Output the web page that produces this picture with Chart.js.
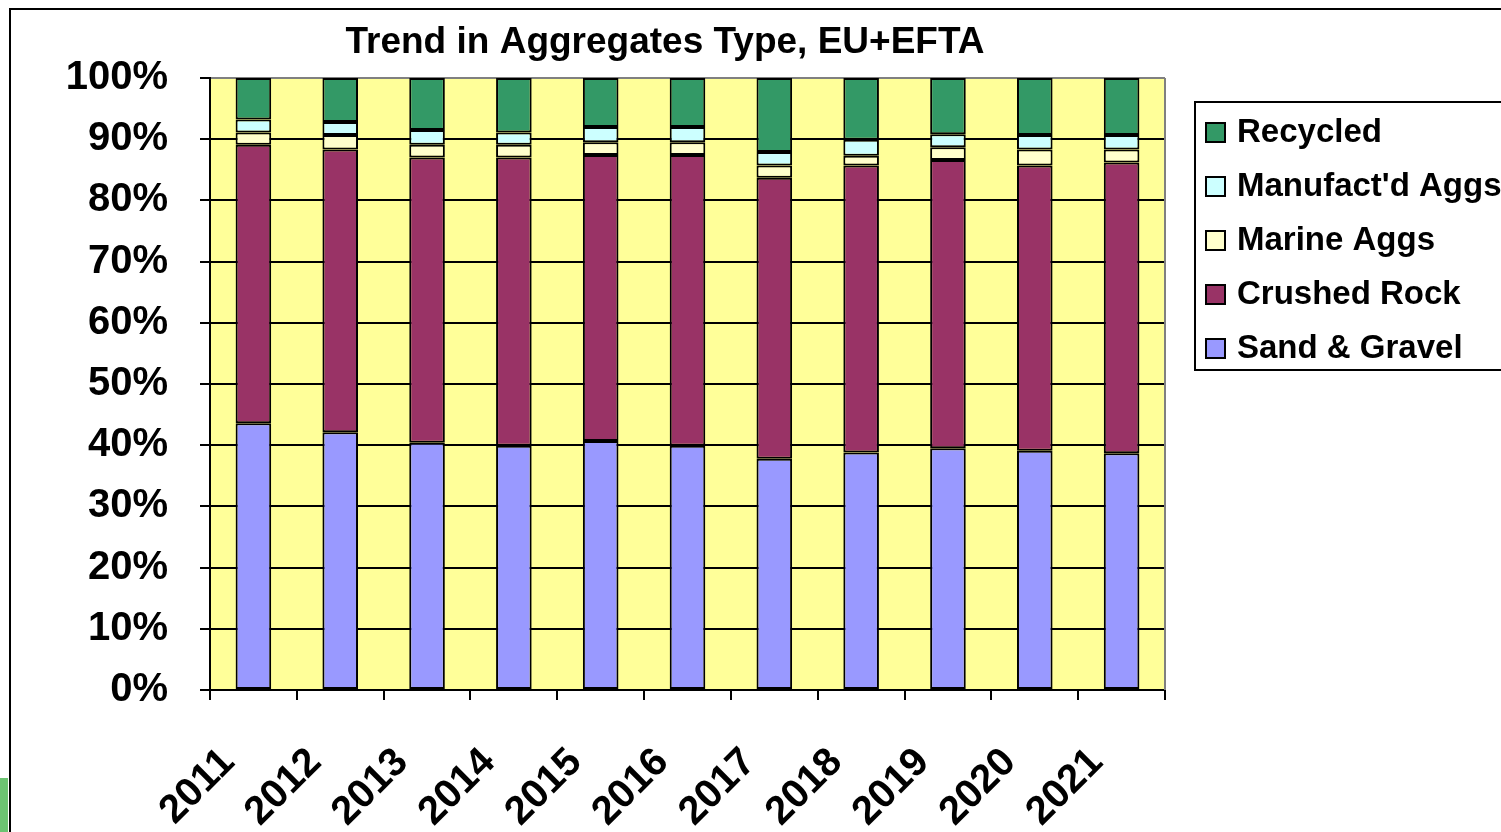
<!DOCTYPE html>
<html>
<head>
<meta charset="utf-8">
<script src="https://cdn.jsdelivr.net/npm/chart.js@4.4.0/dist/chart.umd.min.js"></script>
<style>
  html, body { margin: 0; padding: 0; background: #fff; overflow: hidden; }
  #wrap { position: relative; width: 1501px; height: 832px; }
  #frame { position: absolute; left: 9px; top: 8px; width: 1600px; height: 900px;
           border-left: 2px solid #000; border-top: 2px solid #000; }
  #tab { position: absolute; left: 0; top: 778px; width: 8px; height: 54px; background: #6cc472; }
  canvas { position: absolute; left: 0; top: 0; }
</style>
</head>
<body>
<div id="wrap">
  <div id="frame"></div>
  <div id="tab"></div>
  <canvas id="aggs" width="1501" height="832"></canvas>
</div>
<script>
const years = ["2011", "2012", "2013", "2014", "2015", "2016", "2017", "2018", "2019", "2020", "2021"];

// shares in % of total
const sandGravel   = [43.6, 42.1, 40.4, 39.9, 40.7, 39.9, 37.8, 38.8, 39.5, 39.1, 38.7];
const crushedRock  = [45.5, 46.2, 46.6, 47.1, 46.7, 47.5, 45.9, 46.9, 47.1, 46.6, 47.5];
const marineAggs   = [2.0, 2.4, 2.1, 2.1, 2.1, 2.1, 2.0, 1.6, 2.1, 2.6, 2.1];
const manufAggs    = [2.1, 2.1, 2.4, 2.0, 2.5, 2.5, 2.2, 2.6, 2.1, 2.4, 2.4];
const recycled     = [6.8, 7.2, 8.5, 8.9, 8.0, 8.0, 12.1, 10.1, 9.2, 9.3, 9.3];

const yTicks = [0, 10, 20, 30, 40, 50, 60, 70, 80, 90, 100];

const FONT = "'Liberation Sans', Arial, sans-serif";

// yellow plot area, gray right edge, title and the boxed legend
const excelLook = {
    id: 'excelLook',
    beforeDraw(chart) {
        const { ctx, chartArea: a } = chart;
        ctx.save();
        ctx.fillStyle = '#FFFF99';
        ctx.fillRect(a.left, a.top, a.right - a.left, a.bottom - a.top);
        ctx.restore();
    },
    afterDraw(chart) {
        const { ctx, chartArea: a } = chart;
        ctx.save();
        ctx.strokeStyle = '#808080';
        ctx.lineWidth = 2;
        ctx.beginPath();
        ctx.moveTo(a.right, a.top);
        ctx.lineTo(a.right, a.bottom);
        ctx.stroke();

        // title
        ctx.fillStyle = '#000';
        ctx.font = 'bold 37px ' + FONT;
        ctx.textAlign = 'center';
        ctx.textBaseline = 'middle';
        ctx.fillText('Trend in Aggregates Type, EU+EFTA', 665, 43);

        // legend
        ctx.fillStyle = '#fff';
        ctx.fillRect(1195, 102, 400, 268);
        ctx.strokeStyle = '#000';
        ctx.lineWidth = 2;
        ctx.strokeRect(1195, 102, 400, 268);
        const sets = chart.data.datasets.slice().reverse();
        ctx.font = 'bold 33px ' + FONT;
        ctx.textAlign = 'left';
        ctx.textBaseline = 'alphabetic';
        sets.forEach((ds, i) => {
            const base = 142 + i * 54;
            ctx.fillStyle = ds.backgroundColor;
            ctx.fillRect(1206, base - 19, 19, 19);
            ctx.lineWidth = 2;
            ctx.strokeRect(1206, base - 19, 19, 19);
            ctx.fillStyle = '#000';
            ctx.fillText(ds.label, 1237, base);
        });
        ctx.restore();
    }
};

function bar(label, data, color) {
    return {
        label: label,
        data: data,
        backgroundColor: color,
        borderColor: '#000',
        borderWidth: 2,
        borderSkipped: false,
        categoryPercentage: 1,
        barPercentage: 0.41
    };
}

new Chart(document.getElementById('aggs'), {
    type: 'bar',
    data: {
        labels: years,
        datasets: [
            bar('Sand & Gravel', sandGravel, '#9999FF'),
            bar('Crushed Rock', crushedRock, '#993366'),
            bar('Marine Aggs', marineAggs, '#FFFFCC'),
            bar("Manufact'd Aggs", manufAggs, '#CCFFFF'),
            bar('Recycled', recycled, '#339966')
        ]
    },
    options: {
        responsive: false,
        animation: false,
        devicePixelRatio: 1,
        layout: { padding: { top: 78, right: 336, bottom: 0, left: 0 } },
        plugins: {
            legend: { display: false },
            title: { display: false },
            tooltip: { enabled: false }
        },
        scales: {
            x: {
                stacked: true,
                afterFit(axis) { axis.height = 142; },
                grid: {
                    offset: true,
                    drawOnChartArea: false,
                    tickLength: 10,
                    tickColor: '#000',
                    lineWidth: 2
                },
                border: { color: '#000', width: 2 },
                ticks: {
                    color: '#000',
                    font: { family: FONT, size: 40, weight: 'bold' },
                    minRotation: 45,
                    maxRotation: 45,
                    autoSkip: false,
                    labelOffset: -25,
                    padding: 39
                }
            },
            y: {
                stacked: true,
                min: 0,
                max: 100,
                afterFit(axis) { axis.width = 210; },
                afterBuildTicks(axis) { axis.ticks = yTicks.map(v => ({ value: v })); },
                grid: {
                    color: c => (c.tick && c.tick.value === 100 ? '#808080' : '#000'),
                    tickColor: '#000',
                    tickLength: 10,
                    lineWidth: 2
                },
                border: { color: '#000', width: 2 },
                ticks: {
                    color: '#000',
                    padding: 32,
                    font: { family: FONT, size: 40, weight: 'bold' },
                    callback: v => v + '%'
                }
            }
        }
    },
    plugins: [excelLook]
});
</script>
</body>
</html>
